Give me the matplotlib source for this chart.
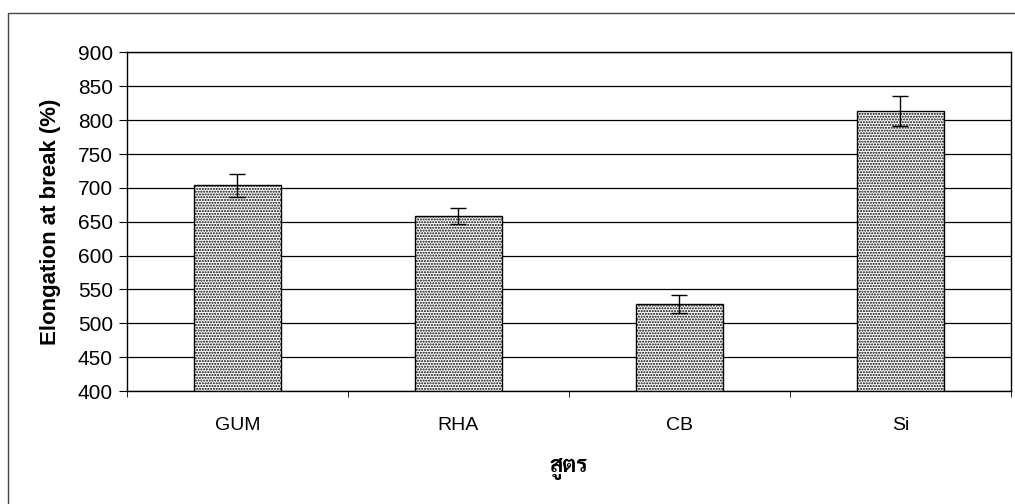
import numpy as np
import matplotlib
matplotlib.use("Agg")
import matplotlib.pyplot as plt
from matplotlib.patches import Rectangle

# ค่า elongation at break ของแต่ละสูตร
formulas = ["GUM", "RHA", "CB", "Si"]
elongation = [704, 658, 529, 814]
elong_err = [17, 12, 13, 22]

plt.rcParams['font.family'] = ['Liberation Sans', 'DejaVu Sans']
plt.rcParams['hatch.linewidth'] = 1.0
plt.rcParams['hatch.color'] = '#6a6a6a'

fig = plt.figure(figsize=(10.15, 5.04), dpi=100)
ax = fig.add_axes([0.125, 0.224, 0.871, 0.672])

# กรอบนอกของแผนภูมิ
fig.patches.append(Rectangle((8/1015, -0.05), 1.1, 1 - 13/504 + 0.05, transform=fig.transFigure,
                             fill=False, edgecolor='#444444', lw=1.0))

x = np.arange(len(formulas))
ax.bar(x, elongation, width=0.395, color='white', edgecolor='black', linewidth=1.0,
       hatch='......', zorder=2)
ax.errorbar(x, elongation, yerr=elong_err, fmt='none', ecolor='black', elinewidth=1.0,
            capsize=6, capthick=1.0, zorder=3)

ax.set_xlim(-0.5, len(formulas) - 0.5)
ax.set_ylim(400, 900)
ax.set_yticks(np.arange(400, 901, 50))
ax.yaxis.grid(True, color='black', lw=0.9, zorder=0)
ax.set_axisbelow(True)

ax.set_xticks(x)
ax.set_xticklabels(formulas, fontsize=14)
ax.set_xticks(np.arange(-0.5, len(formulas)), minor=True)
ax.tick_params(axis='x', which='major', length=0, pad=19)
ax.tick_params(axis='x', which='minor', length=4, direction='out')
ax.tick_params(axis='y', length=6, labelsize=15, pad=4)

for s in ax.spines.values():
    s.set_linewidth(1.0)

ax.set_ylabel("Elongation at break (%)", fontsize=16, fontweight='bold', labelpad=12)
ax.set_xlabel("สูตร", fontsize=16, fontweight='bold', labelpad=17,
              family=['Sarabun', 'IBM Plex Sans Thai', 'Anuphan', 'DejaVu Sans'])

fig.savefig("out.png", dpi=100)
